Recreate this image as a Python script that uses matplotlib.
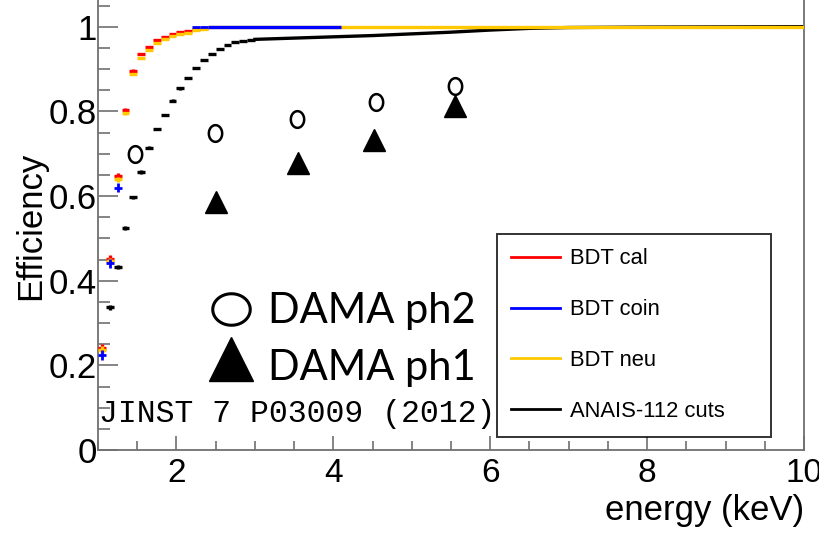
import numpy as np
import matplotlib
matplotlib.use("Agg")
import matplotlib.pyplot as plt
from matplotlib.lines import Line2D
from matplotlib.path import Path
from matplotlib.ticker import MultipleLocator, FormatStrFormatter

plt.rcParams['font.family'] = ['Liberation Sans', 'DejaVu Sans']

# BDT efficiencies, 0.1 keV bins at threshold
bins_lo = [1.05, 1.15, 1.25, 1.35, 1.45, 1.55, 1.65, 1.75, 1.85, 1.95, 2.05, 2.15, 2.25, 2.35]
eff_cal = [0.240, 0.452, 0.648, 0.803, 0.896, 0.935, 0.953, 0.968, 0.975, 0.982, 0.987, 0.990, 0.995, 0.998]
eff_neu = [0.236, 0.446, 0.640, 0.795, 0.888, 0.927, 0.946, 0.962, 0.970, 0.977, 0.982, 0.986, 0.991, 0.995]
err_lo = [0.010, 0.008, 0.006, 0.004, 0.003, 0.002, 0.002, 0.002, 0.001, 0.001, 0.001, 0.001, 0.001, 0.001]

bins_coin = [1.05, 1.15, 1.25, 2.25, 2.35]
eff_coin = [0.225, 0.441, 0.620, 0.999, 1.0]
err_coin = [0.012, 0.010, 0.010, 0.001, 0.001]

# flat part of the BDT curves (start, end)
coin_flat = (2.4, 4.1)
neu_flat = (2.4, 10.0)

# ANAIS-112 cuts
bins_anais = [1.15, 1.25, 1.35, 1.45, 1.55, 1.65, 1.75, 1.85, 1.95, 2.05,
              2.15, 2.25, 2.35, 2.45, 2.55, 2.65, 2.75, 2.85, 2.95]
eff_anais = [0.337, 0.433, 0.524, 0.597, 0.657, 0.714, 0.758, 0.791, 0.825, 0.854,
             0.878, 0.903, 0.922, 0.936, 0.948, 0.957, 0.963, 0.966, 0.969]
err_anais = [0.006, 0.005, 0.005, 0.004, 0.004, 0.004, 0.003, 0.003, 0.003, 0.003,
             0.002, 0.002, 0.002, 0.002, 0.002, 0.001, 0.001, 0.001, 0.001]
tail_e = [3.0, 3.5, 4.0, 4.5, 5.0, 5.5, 6.0, 6.5, 7.0, 8.0, 10.0]
tail_eff = [0.970, 0.973, 0.976, 0.979, 0.983, 0.987, 0.992, 0.996, 0.998, 0.999, 1.0]

# DAMA points
dama2_e = [1.47, 2.49, 3.54, 4.55, 5.55]
dama2_eff = [0.699, 0.750, 0.781, 0.823, 0.860]
dama1_e = [2.50, 3.55, 4.52, 5.55]
dama1_eff = [0.585, 0.678, 0.733, 0.812]

RED = '#ff0000'
BLUE = '#0000ff'
GOLD = '#ffc800'
GRAY = '#707070'

def ellipse(wx, wy):
    t = np.linspace(0, 2 * np.pi, 60)
    return Path(np.column_stack([wx * np.cos(t), wy * np.sin(t)]), closed=True)

fig = plt.figure(figsize=(8.2, 5.34), dpi=100)
ax = fig.add_axes([98 / 820, 84 / 534, 706 / 820, 450 / 534])
ax.set_xlim(1, 10)
ax.set_ylim(0, 1.063)

ax.plot(tail_e, tail_eff, color='black', lw=2.4, zorder=2)
ax.errorbar(bins_anais, eff_anais, xerr=0.05, yerr=err_anais, fmt='none',
            ecolor='black', elinewidth=2.4, capsize=0, zorder=2)
ax.errorbar(bins_lo, eff_cal, xerr=0.05, yerr=err_lo, fmt='none',
            ecolor=RED, elinewidth=2.4, capsize=0, zorder=3)
ax.errorbar(bins_lo, eff_neu, xerr=0.05, yerr=err_lo, fmt='none',
            ecolor=GOLD, elinewidth=2.4, capsize=0, zorder=4)
ax.hlines(1.0, *neu_flat, color=GOLD, lw=2.4, zorder=4)
ax.errorbar(bins_coin, eff_coin, xerr=0.05, yerr=err_coin, fmt='none',
            ecolor=BLUE, elinewidth=2.0, capsize=0, zorder=5)
ax.hlines(1.0, *coin_flat, color=BLUE, lw=2.4, zorder=5)

ax.plot(dama2_e, dama2_eff, ls='none', marker=ellipse(0.8, 1.0), ms=12,
        mfc='none', mec='black', mew=1.8, zorder=6)
ax.plot(dama1_e, dama1_eff, ls='none', marker='^', ms=16,
        color='black', zorder=6)

# DAMA key
ax.plot([2.70], [0.333], ls='none', marker=ellipse(1.0, 0.84), ms=27,
        mfc='none', mec='black', mew=2.2)
ax.plot([2.70], [0.215], ls='none', marker='^', ms=31, color='black')
ax.text(3.17, 0.300, 'DAMA ph2', fontsize=30, family='Lato', va='baseline')
ax.text(3.17, 0.165, 'DAMA ph1', fontsize=30, family='Lato', va='baseline')
ax.text(1.01, 0.066, 'JINST 7 P03009 (2012)', fontsize=22.7,
        family='Liberation Mono', va='baseline')

handles = [Line2D([], [], color=RED, lw=2),
           Line2D([], [], color=BLUE, lw=2),
           Line2D([], [], color=GOLD, lw=2),
           Line2D([], [], color='black', lw=2)]
labels = ['BDT cal', 'BDT coin', 'BDT neu', 'ANAIS-112 cuts']
leg = ax.legend(handles, labels, loc='upper left', mode='expand',
                bbox_to_anchor=(0.565, 0.48, 0.388, 0.0), borderaxespad=0,
                fontsize=15.8, handlelength=2.2, handletextpad=0.46,
                labelspacing=1.36, borderpad=0.66, fancybox=False)
leg.get_frame().set_edgecolor('black')
leg.get_frame().set_linewidth(1.4)
leg.set_zorder(7)

for s in ['left', 'right', 'bottom']:
    ax.spines[s].set_color(GRAY)
    ax.spines[s].set_linewidth(1.3)
ax.spines['top'].set_visible(False)

ax.xaxis.set_major_locator(MultipleLocator(2))
ax.xaxis.set_minor_locator(MultipleLocator(0.5))
ax.yaxis.set_major_locator(MultipleLocator(0.2))
ax.yaxis.set_minor_locator(MultipleLocator(0.05))
ax.yaxis.set_major_formatter(FormatStrFormatter('%g'))
ax.tick_params(axis='both', which='both', direction='in', color=GRAY, width=1.2)
ax.tick_params(axis='y', which='major', length=14.4, labelsize=25, pad=1)
ax.tick_params(axis='y', which='minor', length=8.6)
ax.tick_params(axis='x', which='major', length=10, labelsize=24, pad=6)
ax.tick_params(axis='x', which='minor', length=6.5)

ax.set_xlabel('energy (keV)', fontsize=25, loc='right')
ax.xaxis.set_label_coords(1.0, -0.097)
ax.set_ylabel('Efficiency', fontsize=25)
ax.yaxis.set_label_coords(-0.072, 0.498)

fig.savefig('out.png', dpi=100)
